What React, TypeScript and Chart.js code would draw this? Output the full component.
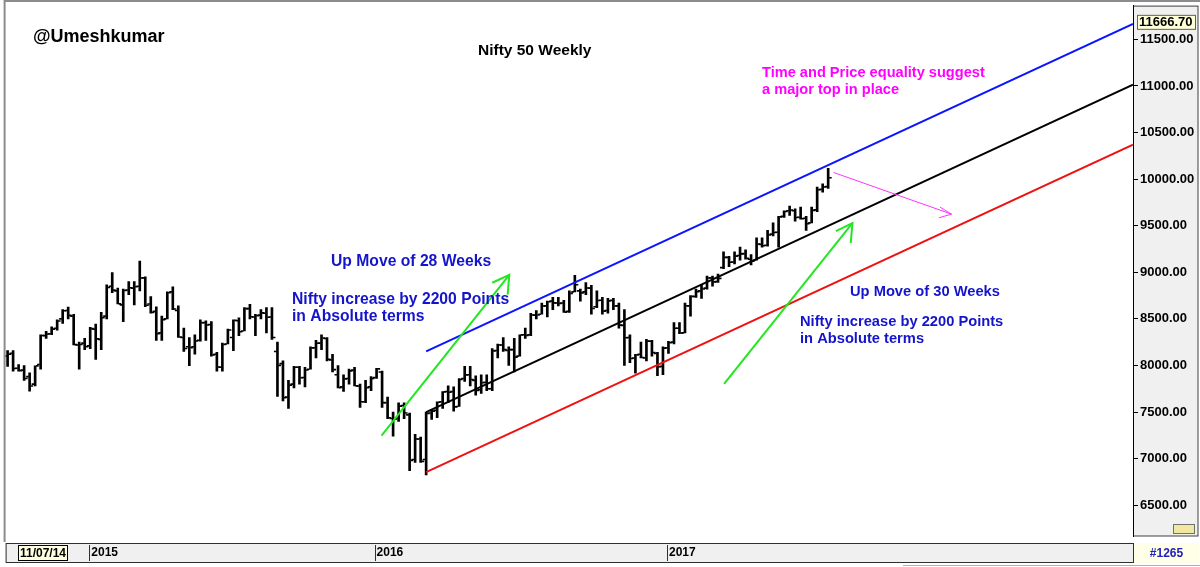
import React, { useEffect, useRef } from "react";
import { Chart, registerables } from "chart.js";

Chart.register(...registerables);

// Weekly OHLC bars of Nifty 50, index 0 = week ending 19 Sep 2014
const OPEN = [
  8100, 8130, 7970, 7950, 7880, 7800, 8010, 8320, 8340, 8400,
  8500, 8590, 8530, 8220, 8240, 8210, 8390, 8280, 8530, 8850,
  8800, 8650, 8810, 8830, 8850, 8940, 8660, 8580, 8350, 8500,
  8790, 8590, 8300, 8200, 8200, 8270, 8460, 8440, 8120, 7980,
  8230, 8300, 8480, 8370, 8610, 8520, 8540, 8560, 8520, 8150,
  8020, 7660, 7800, 7980, 7870, 7960, 8190, 8240, 8290, 8060,
  7900, 7770, 7860, 7950, 7780, 7610, 7770, 7870, 7930, 7600,
  7430, 7430, 7570, 7470, 6990, 7210, 6990, 7490, 7520, 7610,
  7720, 7720, 7560, 7860, 7900, 7840, 7740, 7820, 7750, 8160,
  8220, 8160, 8170, 8100, 8330, 8330, 8540, 8550, 8640, 8690,
  8670, 8670, 8580, 8790, 8800, 8790, 8830, 8630, 8700, 8590,
  8700, 8640, 8430, 8300, 8080, 8120, 8080, 8260, 8130, 7990,
  8190, 8250, 8400, 8350, 8640, 8740, 8800, 8830, 8940, 8900,
  9050, 9160, 9110, 9180, 9200, 9140, 9130, 9300, 9290, 9410,
  9430, 9600, 9660, 9660, 9590, 9580, 9530, 9670, 9890, 9920,
];
const HIGH = [
  8160, 8160, 8010, 8000, 7920, 7995, 8330, 8365, 8415, 8490,
  8600, 8627, 8550, 8250, 8290, 8410, 8445, 8570, 8866, 8996,
  8830, 8820, 8900, 8900, 9119, 8950, 8740, 8630, 8530, 8790,
  8845, 8640, 8400, 8300, 8330, 8490, 8480, 8470, 8140, 8240,
  8390, 8490, 8510, 8620, 8655, 8550, 8600, 8620, 8620, 8250,
  8050, 7840, 7990, 7990, 7980, 8200, 8270, 8330, 8300, 8120,
  8000, 7900, 7960, 7980, 7800, 7840, 7880, 7970, 7940, 7660,
  7500, 7600, 7600, 7490, 7260, 7230, 7500, 7530, 7610, 7720,
  7780, 7770, 7860, 7990, 7990, 7890, 7900, 7900, 8180, 8230,
  8300, 8200, 8290, 8330, 8400, 8560, 8590, 8670, 8690, 8730,
  8730, 8700, 8800, 8968, 8820, 8890, 8860, 8800, 8730, 8720,
  8720, 8670, 8600, 8330, 8120, 8250, 8280, 8270, 8140, 8200,
  8260, 8460, 8460, 8670, 8750, 8820, 8870, 8960, 8960, 8980,
  9220, 9170, 9220, 9270, 9240, 9190, 9370, 9370, 9450, 9530,
  9600, 9660, 9710, 9680, 9700, 9600, 9700, 9915, 9950, 10115,
];
const LOW = [
  7990, 7940, 7940, 7840, 7723, 7780, 7960, 8290, 8330, 8380,
  8450, 8500, 8220, 7961, 8170, 8180, 8065, 8170, 8500, 8780,
  8660, 8470, 8760, 8650, 8800, 8630, 8560, 8270, 8270, 8500,
  8600, 8300, 8150, 7997, 8120, 8260, 8270, 8100, 7940, 7940,
  8230, 8160, 8320, 8370, 8500, 8320, 8500, 8350, 8280, 7667,
  7620, 7540, 7760, 7800, 7770, 7960, 8080, 8170, 8050, 7930,
  7760, 7720, 7800, 7780, 7550, 7600, 7730, 7860, 7550, 7430,
  7240, 7400, 7430, 6870, 6960, 6960, 6825, 7420, 7440, 7540,
  7600, 7510, 7560, 7830, 7780, 7680, 7700, 7730, 7730, 8080,
  8150, 8000, 7930, 8100, 8290, 8320, 8500, 8550, 8520, 8600,
  8640, 8570, 8570, 8790, 8690, 8760, 8550, 8620, 8550, 8560,
  8600, 8400, 8000, 8030, 7916, 8080, 8050, 8100, 7890, 7900,
  8130, 8230, 8340, 8350, 8530, 8730, 8720, 8820, 8850, 8890,
  9040, 9060, 9090, 9130, 9140, 9080, 9130, 9270, 9280, 9390,
  9270, 9590, 9610, 9550, 9570, 9450, 9530, 9650, 9860, 9900,
];
const CLOSE = [
  8121, 7968, 7945, 7860, 7780, 7995, 8322, 8337, 8390, 8477,
  8588, 8538, 8224, 8225, 8200, 8395, 8285, 8513, 8836, 8809,
  8661, 8805, 8834, 8844, 8938, 8647, 8570, 8342, 8492, 8780,
  8606, 8305, 8182, 8191, 8262, 8458, 8434, 8114, 7983, 8225,
  8381, 8485, 8361, 8610, 8522, 8533, 8564, 8518, 8300, 8001,
  7655, 7789, 7981, 7868, 7951, 8189, 8238, 8295, 8065, 7955,
  7762, 7856, 7942, 7781, 7610, 7761, 7861, 7963, 7601, 7438,
  7422, 7564, 7489, 6981, 7210, 6970, 7485, 7510, 7605, 7716,
  7713, 7555, 7850, 7899, 7850, 7733, 7815, 7750, 8156, 8220,
  8170, 8170, 8089, 8328, 8323, 8541, 8541, 8638, 8683, 8672,
  8666, 8572, 8774, 8866, 8779, 8831, 8611, 8697, 8583, 8693,
  8638, 8433, 8297, 8074, 8114, 8086, 8261, 8139, 7986, 8186,
  8243, 8400, 8349, 8641, 8741, 8793, 8821, 8939, 8897, 8935,
  9160, 9108, 9174, 9198, 9150, 9119, 9304, 9285, 9400, 9427,
  9595, 9653, 9668, 9588, 9575, 9521, 9665, 9886, 9915, 10015,
];

// Axis ticks
const Y_TICKS = [6500, 7000, 7500, 8000, 8500, 9000, 9500, 10000, 10500, 11000, 11500];
const YEAR_TICKS = [15.2, 67.0, 120.1];
const YEAR_LABELS = ["2015", "2016", "2017"];
const START_LABEL = "11/07/14";
const BAR_COUNT_LABEL = "#1265";

// Channel lines (week index, price)
const BLUE_LINE = [{ x: 76, y: 8152 }, { x: 204.35, y: 11666.7 }];
const BLACK_LINE = [{ x: 76, y: 7500 }, { x: 204.35, y: 11014 }];
const RED_LINE = [{ x: 76, y: 6855 }, { x: 204.35, y: 10369 }];

// Arrows (week index, price)
const GREEN_ARROW_1 = [{ x: 67.9, y: 7246 }, { x: 91.1, y: 8973 }];
const GREEN_HEAD_1 = [{ x: 88.0, y: 8888 }, { x: 91.1, y: 8973 }, { x: 90.8, y: 8760 }];
const GREEN_ARROW_2 = [{ x: 130.1, y: 7801 }, { x: 153.4, y: 9528 }];
const GREEN_HEAD_2 = [{ x: 150.4, y: 9442 }, { x: 153.4, y: 9528 }, { x: 153.1, y: 9314 }];
const PINK_ARROW = [{ x: 150.0, y: 10071 }, { x: 171.4, y: 9624 }];
const PINK_HEAD = [{ x: 169.3, y: 9700 }, { x: 171.4, y: 9624 }, { x: 169.1, y: 9585 }];

const FONT = "'Liberation Sans', Arial, Helvetica, sans-serif";

type Note = { text: string; x: number; y: number; color: string; size: number };
const NOTES: Note[] = [
  { text: "@Umeshkumar", x: 33, y: 37, color: "#000000", size: 18 },
  { text: "Nifty 50 Weekly", x: 478, y: 51, color: "#000000", size: 15.5 },
  { text: "Time and Price equality suggest", x: 762, y: 73, color: "#ff00ff", size: 14.6 },
  { text: "a major top in place", x: 762, y: 90, color: "#ff00ff", size: 14.6 },
  { text: "Up Move of 28 Weeks", x: 331, y: 262, color: "#1414cc", size: 15.7 },
  { text: "Nifty increase by 2200 Points", x: 292, y: 300, color: "#1414cc", size: 15.7 },
  { text: "in Absolute terms", x: 292, y: 317, color: "#1414cc", size: 15.7 },
  { text: "Up Move of 30 Weeks", x: 850, y: 292, color: "#1414cc", size: 14.7 },
  { text: "Nifty increase by 2200 Points", x: 800, y: 322, color: "#1414cc", size: 14.7 },
  { text: "in Absolute terms", x: 800, y: 339, color: "#1414cc", size: 14.7 },
];

const decor = {
  id: "decor",
  beforeDraw(chart: any) {
    const { ctx, chartArea: a, width } = chart;
    ctx.save();
    ctx.fillStyle = "#ffffff";
    ctx.fillRect(0, 0, chart.width, chart.height);
    // right price panel
    ctx.fillStyle = "#f0f0f0";
    ctx.fillRect(a.right, a.top, width - a.right - 2, a.bottom - a.top);
    ctx.strokeStyle = "#404040";
    ctx.lineWidth = 1;
    ctx.strokeRect(a.right + 0.5, a.top + 0.5, width - a.right - 2.5, a.bottom - a.top - 0.5);
    // outer frame
    ctx.strokeStyle = "#8c8c8c";
    ctx.lineWidth = 2;
    ctx.beginPath();
    ctx.moveTo(a.left - 1, a.bottom + 6);
    ctx.lineTo(a.left - 1, 1);
    ctx.lineTo(width, 1);
    ctx.stroke();
    // bottom date strip
    ctx.fillStyle = "#f0f0f0";
    ctx.fillRect(a.left, 543, a.right - a.left, 19);
    ctx.strokeStyle = "#303030";
    ctx.lineWidth = 1;
    ctx.strokeRect(a.left + 0.5, 543.5, a.right - a.left, 19);
    // bar count box
    ctx.fillStyle = "#ffffe8";
    ctx.fillRect(a.right + 1, 543, width - a.right - 2, 20);
    // bottom rule
    ctx.strokeStyle = "#b0b0b0";
    ctx.beginPath();
    ctx.moveTo(903, 565.5);
    ctx.lineTo(width, 565.5);
    ctx.stroke();
    ctx.restore();
  },
  afterDraw(chart: any) {
    const { ctx, chartArea: a, width, scales } = chart;
    ctx.save();
    // year separators
    ctx.strokeStyle = "#303030";
    ctx.lineWidth = 1;
    scales.x.ticks.forEach((t: any) => {
      const px = Math.round(scales.x.getPixelForValue(t.value)) - 1.5;
      ctx.beginPath();
      ctx.moveTo(px, 545);
      ctx.lineTo(px, 561);
      ctx.stroke();
    });
    // start-date box
    ctx.fillStyle = "#ffffe0";
    ctx.fillRect(18, 545, 50, 16);
    ctx.strokeStyle = "#000";
    ctx.strokeRect(18.5, 545.5, 49, 15);
    ctx.fillStyle = "#000";
    ctx.font = `bold 12px ${FONT}`;
    ctx.textBaseline = "middle";
    ctx.textAlign = "center";
    ctx.fillText(START_LABEL, 43, 553.5);
    // bar count
    ctx.fillStyle = "#2020c0";
    ctx.font = `bold 12px ${FONT}`;
    ctx.textAlign = "center";
    ctx.fillText(BAR_COUNT_LABEL, (a.right + width) / 2, 553.5);
    // small scale icon at bottom of price panel
    ctx.fillStyle = "#eee8a0";
    ctx.fillRect(width - 27, a.bottom - 12, 22, 10);
    ctx.strokeStyle = "#707070";
    ctx.strokeRect(width - 26.5, a.bottom - 11.5, 21, 9);
    // last value box of channel
    const lastVal = BLUE_LINE[1].y;
    const py = scales.y.getPixelForValue(lastVal);
    ctx.fillStyle = "#ffffd8";
    ctx.fillRect(a.right + 4, py - 9, 59, 15);
    ctx.strokeStyle = "#606060";
    ctx.strokeRect(a.right + 4.5, py - 8.5, 58, 14);
    ctx.fillStyle = "#000";
    ctx.font = `bold 13px ${FONT}`;
    ctx.textAlign = "left";
    ctx.fillText(lastVal.toFixed(2), a.right + 6, py - 1.5);
    // annotations
    NOTES.forEach((n) => {
      ctx.font = `bold ${n.size}px ${FONT}`;
      ctx.fillStyle = n.color;
      ctx.textAlign = "left";
      ctx.textBaseline = "middle";
      ctx.fillText(n.text, n.x, n.y);
    });
    ctx.restore();
  },
};

function lineSet(data: { x: number; y: number }[], color: string, width: number, order: number) {
  return {
    type: "line" as const,
    data,
    borderColor: color,
    borderWidth: width,
    pointRadius: 0,
    fill: false,
    tension: 0,
    order,
  };
}

export default function App() {
  const ref = useRef<HTMLCanvasElement | null>(null);
  useEffect(() => {
    if (!ref.current) return;
    const bars = LOW.map((l, i) => ({ x: i, y: [l, HIGH[i]] }));
    const opens = OPEN.map((o, i) => ({ x: i - 0.4, y: o }));
    const closes = CLOSE.map((c, i) => ({ x: i + 0.4, y: c }));
    const chart = new Chart(ref.current, {
      type: "bar",
      data: {
        datasets: [
          lineSet(GREEN_ARROW_1, "#22e622", 2, 0),
          lineSet(GREEN_HEAD_1, "#22e622", 2, 0),
          lineSet(GREEN_ARROW_2, "#22e622", 2, 0),
          lineSet(GREEN_HEAD_2, "#22e622", 2, 0),
          lineSet(PINK_ARROW, "#ff33ff", 1, 0),
          lineSet(PINK_HEAD, "#ff33ff", 1, 0),
          lineSet(BLUE_LINE, "#0a14ff", 2, 1),
          lineSet(BLACK_LINE, "#000000", 2, 1),
          lineSet(RED_LINE, "#ee1111", 2, 1),
          {
            type: "scatter" as const,
            data: opens,
            pointStyle: "line",
            pointRadius: 1.3,
            pointBorderWidth: 1.6,
            pointBorderColor: "#000",
            pointBackgroundColor: "#000",
            showLine: false,
            order: 2,
          },
          {
            type: "scatter" as const,
            data: closes,
            pointStyle: "line",
            pointRadius: 1.3,
            pointBorderWidth: 1.6,
            pointBorderColor: "#000",
            pointBackgroundColor: "#000",
            showLine: false,
            order: 2,
          },
          {
            type: "bar" as const,
            data: bars as any,
            backgroundColor: "#000",
            borderWidth: 0,
            barThickness: 2,
            grouped: false,
            order: 2,
          },
        ] as any,
      },
      options: {
        responsive: false,
        animation: false,
        devicePixelRatio: 1,
        layout: { padding: { left: 3, top: 2, right: 0, bottom: 0 } },
        plugins: {
          legend: { display: false },
          title: { display: false },
          tooltip: { enabled: false },
        },
        events: [],
        scales: {
          x: {
            type: "linear",
            min: -0.362,
            max: 204.35,
            offset: false,
            afterBuildTicks: (axis: any) => {
              axis.ticks = YEAR_TICKS.map((v) => ({ value: v }));
            },
            afterFit: (axis: any) => {
              axis.height = 31;
              axis.paddingLeft = 0;
              axis.paddingRight = 0;
            },
            grid: { display: false, drawTicks: false },
            border: { display: false },
            ticks: {
              autoSkip: false,
              maxRotation: 0,
              minRotation: 0,
              align: "start",
              padding: 9,
              color: "#000",
              font: { family: FONT, size: 12, weight: "bold" },
              callback: (_v: any, i: number) => YEAR_LABELS[i],
            },
          },
          y: {
            type: "linear",
            position: "right",
            min: 6169.5,
            max: 11862.5,
            afterBuildTicks: (axis: any) => {
              axis.ticks = Y_TICKS.map((v) => ({ value: v }));
            },
            afterFit: (axis: any) => {
              axis.width = 67;
              axis.paddingTop = 0;
              axis.paddingBottom = 0;
            },
            grid: { drawOnChartArea: false, drawTicks: true, tickLength: 5, color: "#000", lineWidth: 1 },
            border: { display: true, color: "#000", dash: [1, 2] },
            ticks: {
              padding: 2,
              color: "#000",
              font: { family: FONT, size: 13, weight: "bold" },
              callback: (v: any) => Number(v).toFixed(2),
            },
          },
        },
      } as any,
      plugins: [decor],
    });
    return () => chart.destroy();
  }, []);
  return (
    <div style={{ position: "absolute", left: 0, top: 0, width: 1200, height: 567, background: "#fff" }}>
      <canvas ref={ref} width={1200} height={567} style={{ display: "block", width: 1200, height: 567 }} />
    </div>
  );
}
